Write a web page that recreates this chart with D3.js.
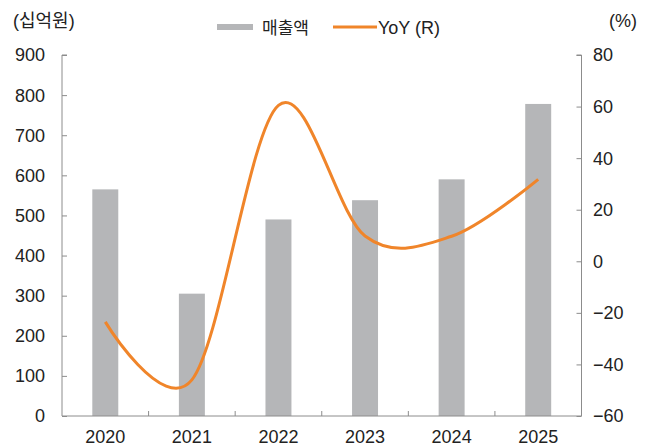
<!DOCTYPE html>
<html>
<head>
<meta charset="utf-8">
<script src="https://cdn.jsdelivr.net/npm/d3@7"></script>
<style>
  body { margin: 0; background: #fff; }
  svg { display: block; }
  text { font-family: "Liberation Sans", "Noto Sans CJK KR", sans-serif; fill: #222; }
</style>
</head>
<body>
<script>
// data
const years = ['2020', '2021', '2022', '2023', '2024', '2025'];
const sales = [565, 305, 490, 538, 590, 778];   // 십억원
const yoy = [-23.5, -46.0, 60.5, 9.8, 9.7, 31.8]; // %
const leftTicks = [0, 100, 200, 300, 400, 500, 600, 700, 800, 900];
const rightTicks = [-60, -40, -20, 0, 20, 40, 60, 80];

const W = 651, H = 446;
const plotLeft = 62, plotRight = 581.5, plotTop = 55, plotBottom = 416;

let svg = d3.select('body').append('svg')
  .attr('width', W)
  .attr('height', H);

let x = d3.scaleBand().domain(years).range([plotLeft, plotRight]).paddingInner(0.7).paddingOuter(0.35);
let xTicks = d3.scaleBand().domain(years).range([plotLeft, plotRight]);
let yL = d3.scaleLinear().domain([0, 900]).range([plotBottom, plotTop]);
let yR = d3.scaleLinear().domain([-60, 80]).range([plotBottom, plotTop]);

const axisColor = '#8c8c8c';

// bars
svg.append('g').selectAll('rect')
  .data(years)
  .enter()
  .append('rect')
  .attr('x', d => x(d))
  .attr('width', x.bandwidth())
  .attr('y', (d, i) => yL(sales[i]))
  .attr('height', (d, i) => plotBottom - yL(sales[i]))
  .attr('fill', '#b5b6b8');

// yoy line, smoothed like the spreadsheet
let line = d3.line()
  .x((d, i) => xTicks(years[i]) + xTicks.bandwidth() / 2)
  .y(d => yR(d))
  .curve(d3.curveCardinal.tension(0));

svg.append('path')
  .attr('d', line(yoy))
  .attr('fill', 'none')
  .attr('stroke', '#f0852a')
  .attr('stroke-width', 3);

// left axis
let gL = svg.append('g').attr('transform', 'translate(' + plotLeft + ',0)')
  .call(d3.axisRight(yL).tickValues(leftTicks).tickSize(5).tickFormat(''));
gL.selectAll('line, path').attr('stroke', axisColor);
gL.select('.domain').attr('d', 'M5,' + plotTop + 'H0V' + plotBottom);
svg.append('g').selectAll('text')
  .data(leftTicks)
  .enter()
  .append('text')
  .attr('x', 45)
  .attr('y', d => yL(d))
  .attr('dy', '0.36em')
  .attr('text-anchor', 'end')
  .attr('font-size', 18)
  .text(d => d);

// right axis
let gR = svg.append('g').attr('transform', 'translate(' + plotRight + ',0)')
  .call(d3.axisLeft(yR).tickValues(rightTicks).tickSize(5).tickFormat(''));
gR.selectAll('line, path').attr('stroke', axisColor);
gR.select('.domain').attr('d', 'M-5,' + plotTop + 'H0V' + plotBottom);
svg.append('g').selectAll('text')
  .data(rightTicks)
  .enter()
  .append('text')
  .attr('x', 593)
  .attr('y', d => yR(d))
  .attr('dy', '0.36em')
  .attr('font-size', 18)
  .text(d => d < 0 ? '\u2212' + Math.abs(d) : d);

// bottom axis with ticks between categories
let gB = svg.append('g').attr('transform', 'translate(0,' + plotBottom + ')');
gB.append('line').attr('x1', plotLeft).attr('x2', plotRight).attr('stroke', axisColor);
gB.selectAll('line.tk')
  .data(years.slice(1))
  .enter()
  .append('line')
  .attr('class', 'tk')
  .attr('x1', d => xTicks(d))
  .attr('x2', d => xTicks(d))
  .attr('y1', 0)
  .attr('y2', -5)
  .attr('stroke', axisColor);
gB.selectAll('text')
  .data(years)
  .enter()
  .append('text')
  .attr('x', d => xTicks(d) + xTicks.bandwidth() / 2)
  .attr('y', 27)
  .attr('text-anchor', 'middle')
  .attr('font-size', 18)
  .text(d => d);

// unit labels
svg.append('text').attr('x', 13).attr('y', 27).attr('font-size', 18).text('(십억원)');
svg.append('text').attr('x', 609).attr('y', 27).attr('font-size', 18).text('(%)');

// legend
svg.append('rect').attr('x', 217).attr('y', 24).attr('width', 36).attr('height', 6).attr('fill', '#b5b6b8');
svg.append('text').attr('x', 262).attr('y', 34).attr('font-size', 17).text('매출액');
svg.append('line').attr('x1', 333).attr('x2', 377).attr('y1', 27).attr('y2', 27)
  .attr('stroke', '#f0852a').attr('stroke-width', 3);
svg.append('text').attr('x', 378).attr('y', 34).attr('font-size', 18).text('YoY (R)');
</script>
</body>
</html>
